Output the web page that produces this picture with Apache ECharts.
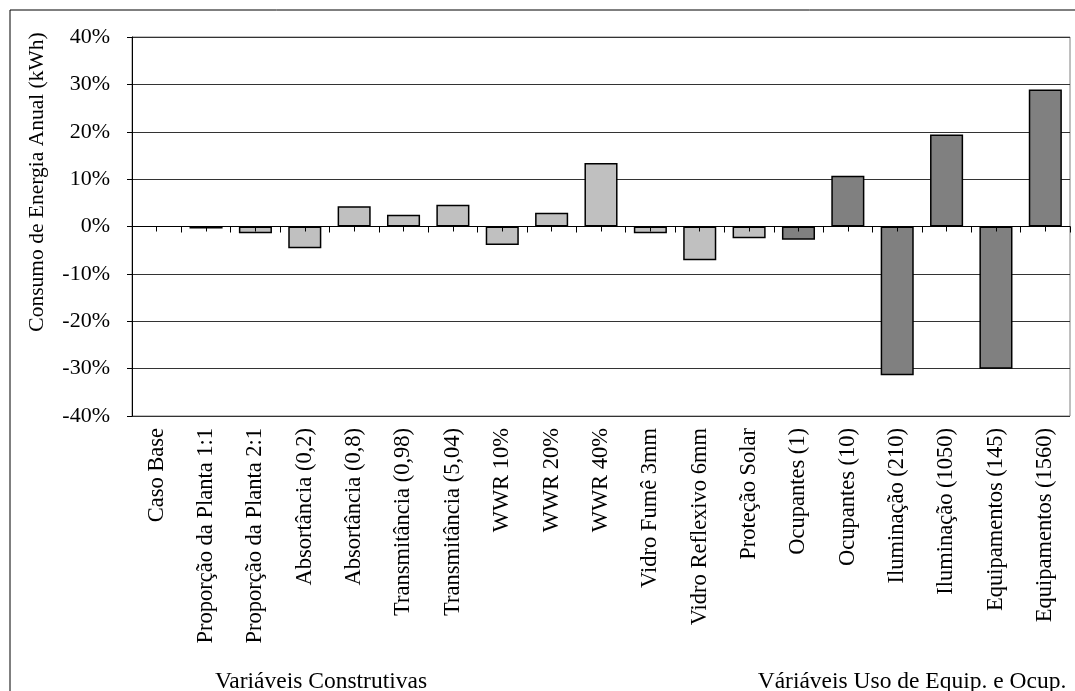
<!DOCTYPE html>
<html>
<head>
<meta charset="utf-8">
<script src="https://cdn.jsdelivr.net/npm/echarts@6/dist/echarts.min.js"></script>
<style>
  html, body { margin: 0; padding: 0; background: #fff; }
  #chart { width: 1075px; height: 691px; }
</style>
</head>
<body>
<div id="chart"></div>
<script>
// Simulated variation of annual energy consumption relative to the base case
const categories = [
  'Caso Base', 'Proporção da Planta 1:1', 'Proporção da Planta 2:1',
  'Absortância (0,2)', 'Absortância (0,8)', 'Transmitância (0,98)',
  'Transmitância (5,04)', 'WWR 10%', 'WWR 20%', 'WWR 40%',
  'Vidro Fumê 3mm', 'Vidro Reflexivo 6mm', 'Proteção Solar',
  'Ocupantes (1)', 'Ocupantes (10)', 'Iluminação (210)',
  'Iluminação (1050)', 'Equipamentos (145)', 'Equipamentos (1560)'
];
// percent change in annual consumption
const values = [
  0, -0.4, -1.4, -4.6, 4.3, 2.5, 4.6, -3.9, 2.9, 13.4,
  -1.4, -7.1, -2.5, -2.8, 10.7, -31.4, 19.4, -30.0, 28.9
];
// which group each category belongs to (0 = construtivas, 1 = uso/ocupação)
const groups = [
  0, 0, 0, 0, 0, 0, 0, 0, 0, 0, 0, 0, 0,
  1, 1, 1, 1, 1, 1
];
const groupNames = ['Variáveis Construtivas', 'Váriáveis Uso de Equip. e Ocup.'];
const yTicks = [-40, -30, -20, -10, 0, 10, 20, 30, 40];
const yName = 'Consumo de Energia Anual (kWh)';

const FONT = 'Liberation Serif';
const groupColors = ['#C0C0C0', '#808080'];

const gridBox = { left: 132, right: 5, top: 37, bottom: 275 };

const seriesList = groupNames.map((name, g) => ({
  name: name,
  type: 'bar',
  stack: 'total',
  xAxisIndex: 0,
  yAxisIndex: 0,
  barCategoryGap: '33%',
  itemStyle: { color: groupColors[g], borderColor: '#000', borderWidth: 1.5 },
  data: values.map((v, i) => (groups[i] === g && v !== 0) ? v : null)
}));

const yRange = { min: yTicks[0], max: yTicks[yTicks.length - 1], interval: 10 };

// an overlay axis that sits on the zero line and only draws ticks
function zeroTickAxis(gridIndex, centred, showLine, len) {
  return {
    type: 'category', data: categories, gridIndex: gridIndex, position: 'bottom', z: 10,
    axisLine: { show: showLine, onZero: true, lineStyle: { color: '#000', width: 1 } },
    axisTick: {
      show: true, interval: 0, alignWithLabel: centred, length: len,
      lineStyle: { color: '#000', width: 1 }
    },
    axisLabel: { show: false, interval: 0 },
    splitLine: { show: false }
  };
}

const option = {
  animation: false,
  backgroundColor: '#fff',
  textStyle: { fontFamily: FONT, color: '#000' },
  grid: [
    Object.assign({ show: true, borderColor: '#808080', borderWidth: 1 }, gridBox),
    Object.assign({ show: false }, gridBox),
    Object.assign({ show: false }, gridBox)
  ],
  xAxis: [
    {
      // category labels under the plot
      type: 'category', data: categories, gridIndex: 0, position: 'bottom',
      axisLine: { show: false, onZero: false },
      axisTick: { show: false },
      axisLabel: {
        rotate: 90, margin: 12, interval: 0,
        fontFamily: FONT, fontSize: 22.5, color: '#000'
      },
      splitLine: { show: false }
    },
    zeroTickAxis(1, false, true, 6),
    zeroTickAxis(2, true, false, 5)
  ],
  yAxis: [
    Object.assign({
      type: 'value', gridIndex: 0,
      axisLine: { show: true, lineStyle: { color: '#000', width: 1 } },
      axisTick: { show: true, length: 5, lineStyle: { color: '#000' } },
      axisLabel: {
        formatter: '{value}%', margin: 22,
        fontFamily: FONT, fontSize: 22, color: '#000'
      },
      splitLine: { show: true, lineStyle: { color: '#333', width: 1 } }
    }, yRange),
    Object.assign({ type: 'value', gridIndex: 1, show: false, splitLine: { show: false } }, yRange),
    Object.assign({ type: 'value', gridIndex: 2, show: false, splitLine: { show: false } }, yRange)
  ],
  series: seriesList,
  title: [
    {
      text: groupNames[0], left: 316, top: 665, textAlign: 'center',
      textStyle: { fontFamily: FONT, fontSize: 23.5, fontWeight: 'normal', color: '#000' }
    },
    {
      text: groupNames[1], left: 907, top: 665, textAlign: 'center',
      textStyle: { fontFamily: FONT, fontSize: 23.5, fontWeight: 'normal', color: '#000' }
    }
  ],
  graphic: [
    {
      type: 'rect', silent: true, z: -1,
      shape: { x: 10, y: 10, width: 1100, height: 720 },
      style: { fill: 'none', stroke: '#000', lineWidth: 1 }
    },
    {
      type: 'text', silent: true,
      x: 37, y: 182, rotation: Math.PI / 2,
      style: {
        text: yName, fontFamily: FONT, fontSize: 21.5, fill: '#000',
        align: 'center', verticalAlign: 'middle'
      }
    }
  ]
};

const chart = echarts.init(document.getElementById('chart'), null, { renderer: 'canvas' });
chart.setOption(option);
</script>
</body>
</html>
